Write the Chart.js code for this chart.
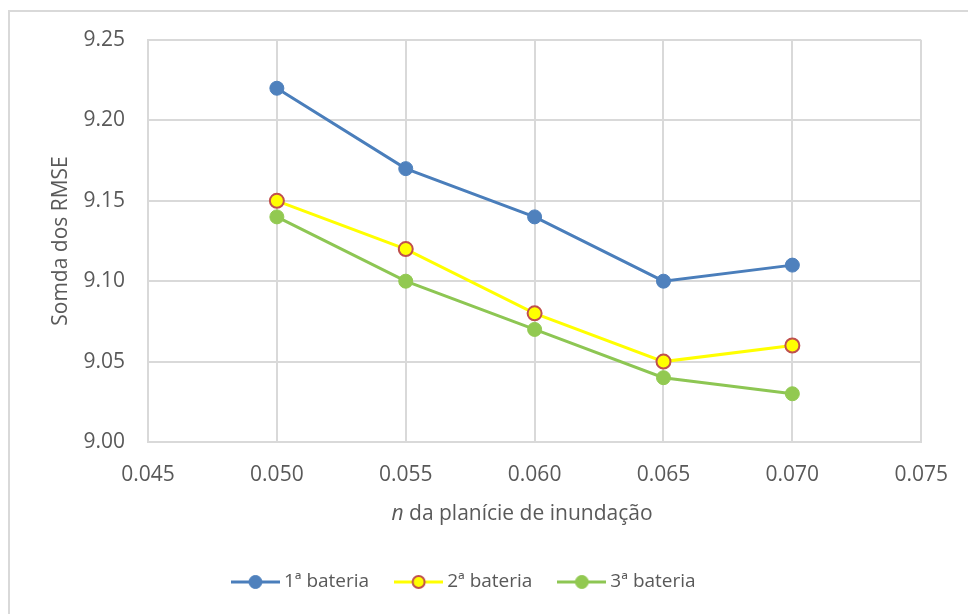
<!DOCTYPE html>
<html>
<head>
<meta charset="utf-8">
<script src="https://cdn.jsdelivr.net/npm/chart.js@4/dist/chart.umd.min.js"></script>
<style>
  html, body { margin: 0; padding: 0; background: #fff; overflow: hidden; }
  #frame { position: absolute; left: 8px; top: 10px; width: 2000px; height: 2000px;
           border: 2px solid #d9d9d9; box-sizing: border-box; }
  #c { position: absolute; left: 0; top: 0; }
</style>
</head>
<body>
<div id="frame"></div>
<canvas id="c" width="968" height="614"></canvas>
<script>
// Manning's n of the floodplain and the summed RMSE for each calibration run
const nValues = [0.050, 0.055, 0.060, 0.065, 0.070];
const bateria1 = [9.22, 9.17, 9.14, 9.10, 9.11];
const bateria2 = [9.15, 9.12, 9.08, 9.05, 9.06];
const bateria3 = [9.14, 9.10, 9.07, 9.04, 9.03];
const seriesNames = ['1ª bateria', '2ª bateria', '3ª bateria'];
const xTicks = [0.045, 0.050, 0.055, 0.060, 0.065, 0.070, 0.075];
const yTicks = [9.00, 9.05, 9.10, 9.15, 9.20, 9.25];
const yTitle = 'Somda dos RMSE';
const xTitleItalic = 'n';
const xTitleRest = ' da planície de inundação';

const FONT = "'Open Sans', sans-serif";
const TEXT = '#595959';
const GRID = '#d9d9d9';

const styles = [
  { line: '#4A7EBB', fill: '#4F81BD', border: '#4F81BD', bw: 1 },
  { line: '#FFFF00', fill: '#FFFF00', border: '#C0504D', bw: 2 },
  { line: '#8DC653', fill: '#92C951', border: '#92C951', bw: 1 }
];

// Legend glyph: short line with the marker in the middle
function legendIcon(s) {
  const cv = document.createElement('canvas');
  cv.width = 49; cv.height = 18;
  const g = cv.getContext('2d');
  g.strokeStyle = s.line; g.lineWidth = 3;
  g.beginPath(); g.moveTo(0, 9); g.lineTo(49, 9); g.stroke();
  g.beginPath(); g.arc(24.5, 9, 7 - s.bw / 2, 0, Math.PI * 2);
  g.fillStyle = s.fill; g.fill();
  g.lineWidth = s.bw; g.strokeStyle = s.border; g.stroke();
  return cv;
}
const icons = styles.map(legendIcon);

function toPoints(ys) { return nValues.map((x, i) => ({ x: x, y: ys[i] })); }

const datasets = [bateria1, bateria2, bateria3].map((ys, i) => ({
  label: seriesNames[i],
  data: toPoints(ys),
  borderColor: styles[i].line,
  borderWidth: 3,
  pointRadius: 7,
  pointHoverRadius: 7,
  pointBackgroundColor: styles[i].fill,
  pointBorderColor: styles[i].border,
  pointBorderWidth: styles[i].bw,
  tension: 0,
  fill: false
}));

// Axis titles drawn by hand so the "n" can be italic
const axisTitles = {
  id: 'axisTitles',
  afterInit(chart) {
    const lg = chart.legend;
    const fit = lg.fit;
    lg.fit = function () { fit.call(this); this.height = 72; };
  },
  afterDraw(chart) {
    const { ctx, chartArea: a } = chart;
    ctx.save();
    ctx.fillStyle = TEXT;
    ctx.font = '21px ' + FONT;
    ctx.textBaseline = 'alphabetic';
    ctx.save();
    ctx.translate(67, (a.top + a.bottom) / 2);
    ctx.rotate(-Math.PI / 2);
    ctx.textAlign = 'center';
    ctx.fillText(yTitle, 0, 0);
    ctx.restore();

    ctx.font = 'italic 21px ' + FONT;
    const wi = ctx.measureText(xTitleItalic).width;
    ctx.font = '21px ' + FONT;
    const wr = ctx.measureText(xTitleRest).width;
    let x = 522 - (wi + wr) / 2;
    ctx.textAlign = 'left';
    ctx.font = 'italic 21px ' + FONT;
    ctx.fillText(xTitleItalic, x, 520);
    ctx.font = '21px ' + FONT;
    ctx.fillText(xTitleRest, x + wi, 520);
    ctx.restore();
  }
};

new Chart(document.getElementById('c'), {
  type: 'line',
  data: { datasets: datasets },
  options: {
    responsive: false,
    animation: false,
    events: [],
    layout: { padding: { left: 10, right: 46, top: 40, bottom: 0 } },
    scales: {
      x: {
        type: 'linear',
        min: 0.045, max: 0.075,
        afterBuildTicks: s => { s.ticks = xTicks.map(v => ({ value: v })); },
        afterFit: s => { s.height = 100; },
        grid: { color: GRID, lineWidth: 2, drawTicks: false },
        border: { color: GRID, width: 2 },
        ticks: {
          color: TEXT, font: { family: FONT, size: 21 }, padding: 20,
          maxRotation: 0,
          callback: v => v.toFixed(3)
        }
      },
      y: {
        min: 9.00, max: 9.25,
        afterBuildTicks: s => { s.ticks = yTicks.map(v => ({ value: v })); },
        afterFit: s => { s.width = 138; },
        grid: { color: GRID, lineWidth: 2, drawTicks: false },
        border: { color: GRID, width: 2 },
        ticks: {
          color: TEXT, font: { family: FONT, size: 21 }, padding: 23,
          callback: v => v.toFixed(2)
        }
      }
    },
    plugins: {
      tooltip: { enabled: false },
      legend: {
        position: 'bottom',
        labels: {
          usePointStyle: true,
          pointStyleWidth: 38,
          padding: 30.5,
          color: TEXT,
          font: { family: FONT, size: 19 },
          generateLabels: chart => {
            const items = Chart.defaults.plugins.legend.labels.generateLabels(chart);
            return items.map((it, i) => Object.assign(it, { pointStyle: icons[i] }));
          }
        }
      }
    }
  },
  plugins: [axisTitles]
});
</script>
</body>
</html>
